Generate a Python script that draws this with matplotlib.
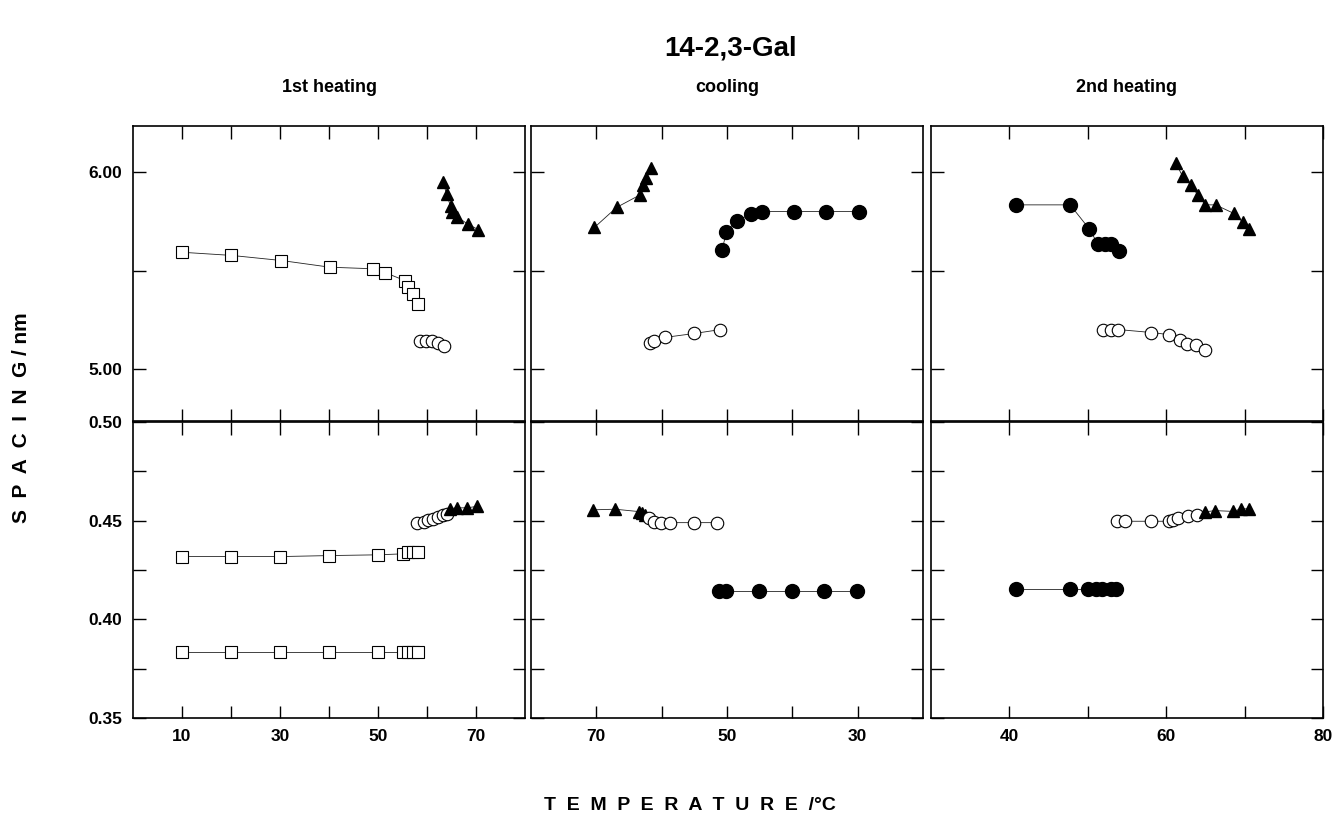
import matplotlib.pyplot as plt
import numpy as np

plt.rcParams["font.family"] = ["Liberation Sans", "DejaVu Sans"]
plt.rcParams["font.weight"] = "bold"

# ---- long spacing (nm), upper row ----
# 1st heating
h1_sq_t = [10, 20.1, 30.3, 40.2, 49.0, 51.4, 55.5, 56.2, 57.2, 58.2]
h1_sq_d = [5.593, 5.577, 5.551, 5.517, 5.509, 5.49, 5.449, 5.415, 5.381, 5.33]
h1_oc_t = [58.6, 59.8, 61.0, 62.2, 63.5]
h1_oc_d = [5.143, 5.143, 5.143, 5.133, 5.117]
h1_tr_t = [63.3, 64.0, 64.8, 65.2, 66.2, 68.4, 70.5]
h1_tr_d = [5.95, 5.888, 5.827, 5.797, 5.772, 5.735, 5.708]
# cooling
c_tr_t = [70.3, 66.9, 63.3, 62.9, 62.4, 61.6]
c_tr_d = [5.719, 5.821, 5.885, 5.936, 5.970, 6.02]
c_fc_t = [50.75, 50.1, 48.4, 46.4, 44.7, 39.8, 34.8, 29.8]
c_fc_d = [5.606, 5.694, 5.753, 5.787, 5.80, 5.80, 5.80, 5.80]
c_oc_t = [61.8, 61.2, 59.5, 55.0, 51.0]
c_oc_d = [5.13, 5.14, 5.16, 5.18, 5.20]
# 2nd heating
h2_fc_t = [40.9, 47.75, 50.2, 51.3, 52.2, 53.0, 54.0]
h2_fc_d = [5.834, 5.834, 5.711, 5.634, 5.634, 5.634, 5.60]
h2_tr_t = [61.2, 62.1, 63.2, 64.05, 65.0, 66.3, 68.6, 69.8, 70.5]
h2_tr_d = [6.048, 5.979, 5.933, 5.882, 5.834, 5.834, 5.791, 5.745, 5.711]
h2_oc_t = [52.0, 52.9, 53.9, 58.1, 60.4, 61.7, 62.7, 63.8, 64.9]
h2_oc_d = [5.20, 5.20, 5.20, 5.185, 5.174, 5.149, 5.128, 5.123, 5.097]

# ---- short spacing (nm), lower row ----
h1_sq1_t = [10, 20.1, 30, 39.9, 50.1, 55.2, 56.2, 57.2, 58.2]
h1_sq1_d = [0.3833] * 9
h1_sq2_t = [10, 20.1, 30, 39.9, 50.1, 55.2, 56.2, 57.2, 58.2]
h1_sq2_d = [0.4318, 0.4318, 0.4318, 0.4323, 0.4327, 0.4332, 0.434, 0.4343, 0.4343]
h1_oc2_t = [57.9, 59.3, 60.3, 61.3, 62.3, 63.3, 64.0]
h1_oc2_d = [0.449, 0.4493, 0.4502, 0.451, 0.4519, 0.4527, 0.4536]
h1_tr2_t = [64.7, 66.1, 68.2, 70.3]
h1_tr2_d = [0.4561, 0.4565, 0.4565, 0.4573]

c_tr2_t = [70.5, 67.1, 63.5, 63.0, 62.5]
c_tr2_d = [0.4555, 0.4558, 0.4546, 0.4537, 0.4529]
c_oc2_t = [61.9, 61.1, 60.1, 58.8, 55.0, 51.6]
c_oc2_d = [0.4512, 0.4495, 0.449, 0.449, 0.449, 0.449]
c_fc2_t = [51.2, 50.2, 45.1, 40.0, 35.1, 30.1]
c_fc2_d = [0.4143] * 6

h2_fc2_t = [40.8, 47.7, 50.0, 51.0, 51.8, 52.9, 53.6]
h2_fc2_d = [0.4153] * 7
h2_oc2_t = [53.7, 54.7, 58.1, 60.4, 60.9, 61.5, 62.8, 63.9]
h2_oc2_d = [0.4497, 0.4497, 0.4497, 0.4497, 0.4505, 0.4514, 0.4522, 0.4531]
h2_tr2_t = [64.9, 66.2, 68.5, 69.6, 70.5]
h2_tr2_d = [0.4544, 0.4551, 0.4547, 0.456, 0.456]

col_titles = ["1st heating", "cooling", "2nd heating"]
xlims = [(0, 80), (80, 20), (30, 80)]
xticks = [[10, 20, 30, 40, 50, 60, 70], [70, 60, 50, 40, 30], [40, 50, 60, 70, 80]]
xticklabels = [["10", "", "30", "", "50", "", "70"], ["70", "", "50", "", "30"],
               ["40", "", "60", "", "80"]]
top_yticks = [6.0, 5.5, 5.0]
top_ylabels = ["6.00", "", "5.00"]
bot_yticks = [0.50, 0.475, 0.45, 0.425, 0.40, 0.375, 0.35]
bot_ylabels = ["0.50", "", "0.45", "", "0.40", "", "0.35"]

SQ = dict(marker="s", mfc="white", mec="black", ms=9, mew=0.8)
OC = dict(marker="o", mfc="white", mec="black", ms=9, mew=0.8)
FC = dict(marker="o", mfc="black", mec="black", ms=10)
TR = dict(marker="^", mfc="black", mec="black", ms=8)


def draw(ax, t, d, style):
    ax.plot(t, d, color="#222222", lw=0.6, **style)


fig = plt.figure(figsize=(13.37, 8.23), dpi=100)
lefts = [133, 531, 931]
width = 392
top_row = (126, 421)
bot_row = (422, 718)
W, H = 1337, 823

axes = []
for r, (y0, y1) in enumerate([top_row, bot_row]):
    row = []
    for c, x0 in enumerate(lefts):
        ax = fig.add_axes([x0 / W, 1 - y1 / H, width / W, (y1 - y0) / H])
        row.append(ax)
    axes.append(row)

top_series = [
    [(h1_sq_t, h1_sq_d, SQ), (h1_oc_t, h1_oc_d, OC), (h1_tr_t, h1_tr_d, TR)],
    [(c_tr_t, c_tr_d, TR), (c_fc_t, c_fc_d, FC), (c_oc_t, c_oc_d, OC)],
    [(h2_fc_t, h2_fc_d, FC), (h2_tr_t, h2_tr_d, TR), (h2_oc_t, h2_oc_d, OC)],
]
bot_series = [
    [(h1_sq1_t, h1_sq1_d, SQ), (h1_sq2_t, h1_sq2_d, SQ), (h1_oc2_t, h1_oc2_d, OC),
     (h1_tr2_t, h1_tr2_d, TR)],
    [(c_tr2_t, c_tr2_d, TR), (c_oc2_t, c_oc2_d, OC), (c_fc2_t, c_fc2_d, FC)],
    [(h2_fc2_t, h2_fc2_d, FC), (h2_oc2_t, h2_oc2_d, OC), (h2_tr2_t, h2_tr2_d, TR)],
]

for c in range(3):
    for r, series in enumerate([top_series[c], bot_series[c]]):
        ax = axes[r][c]
        for t, d, st in series:
            draw(ax, t, d, st)
        ax.set_xlim(*xlims[c])
        ax.set_xticks(xticks[c])
        if r == 0:
            ax.set_ylim(4.735, 6.235)
            ax.set_yticks(top_yticks)
            ax.set_yticklabels(top_ylabels if c == 0 else [])
            ax.set_xticklabels([])
        else:
            ax.set_ylim(0.35, 0.50)
            ax.set_yticks(bot_yticks)
            ax.set_yticklabels(bot_ylabels if c == 0 else [])
            ax.set_xticklabels(xticklabels[c])
        ax.tick_params(direction="in", length=9, width=1.0, top=True, right=True,
                       labelsize=12.5, pad=8)
        for s in ax.spines.values():
            s.set_linewidth(1.2)
        for lab in ax.get_xticklabels() + ax.get_yticklabels():
            lab.set_fontweight("bold")

for c, title in enumerate(col_titles):
    xc = (lefts[c] + width / 2) / W
    fig.text(xc, 1 - 87 / H, title, ha="center", va="center", fontsize=13,
             fontweight="bold")

fig.text(731 / W, 1 - 48 / H, "14-2,3-Gal", ha="center", va="center",
         fontsize=20, fontweight="bold")
fig.text(22 / W, 1 - 418 / H, "S  P  A  C  I  N  G / nm", rotation=90,
         ha="center", va="center", fontsize=15, fontweight="bold")
fig.text(690 / W, 1 - 805 / H, "T  E  M  P  E  R  A  T  U  R  E  /°C",
         ha="center", va="center", fontsize=14, fontweight="bold")

fig.savefig("out.png", dpi=100)
